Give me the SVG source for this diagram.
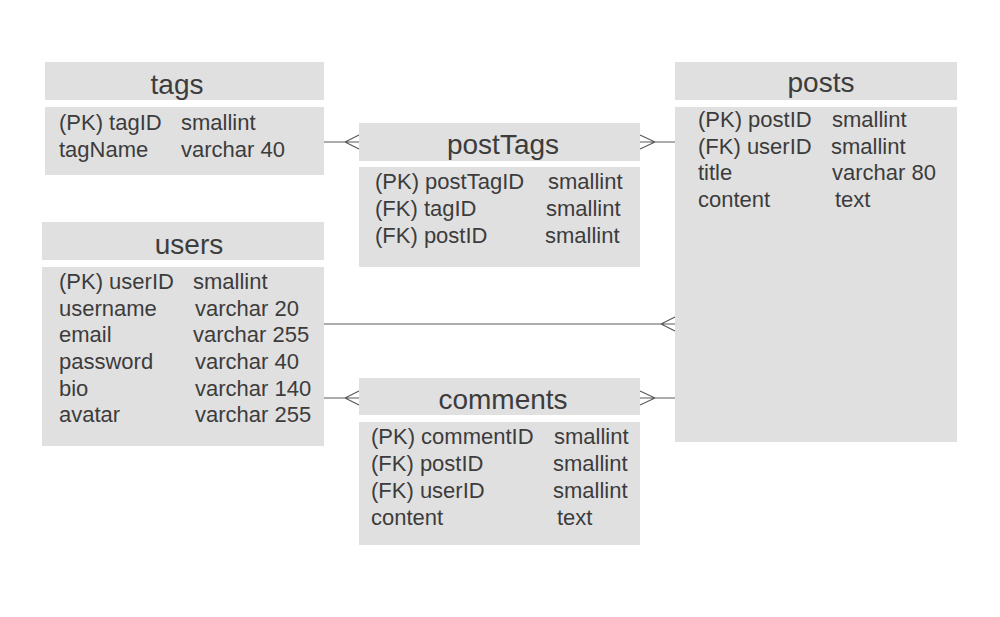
<svg xmlns="http://www.w3.org/2000/svg" width="1000" height="617" viewBox="0 0 1000 617">
<style>
.box{fill:#e1e0e0}
.h{font-family:"Liberation Sans",Arial,sans-serif;font-size:28px;fill:#3c3c3c;text-anchor:middle}
.r{font-family:"Liberation Sans",Arial,sans-serif;font-size:22px;fill:#3c3c3c}
.c{fill:none;stroke:#5a5a5a;stroke-width:1.2}
</style>
<rect width="1000" height="617" fill="#ffffff"/>
<g id="connectors">
<path class="c" d="M324,142 H359 M345,142 L359,135 M345,142 L359,149"/>
<path class="c" d="M640,142 H675 M655,142 L640,135 M655,142 L640,149"/>
<path class="c" d="M324,324 H675 M661,324 L675,317 M661,324 L675,331"/>
<path class="c" d="M324,398 H359 M345,398 L359,391 M345,398 L359,405"/>
<path class="c" d="M640,398 H675 M655,398 L640,391 M655,398 L640,405"/>
</g>
<g id="tags">
<rect class="box" x="45" y="62" width="279" height="38"/>
<rect class="box" x="45" y="107" width="279" height="68"/>
<text class="h" x="177" y="94">tags</text>
<text class="r" x="59" y="130">(PK) tagID</text><text class="r" x="181" y="130">smallint</text>
<text class="r" x="59" y="157">tagName</text><text class="r" x="181" y="157">varchar 40</text>
</g>
<g id="users">
<rect class="box" x="42" y="222" width="282" height="38"/>
<rect class="box" x="42" y="267" width="282" height="179"/>
<text class="h" x="189" y="254">users</text>
<text class="r" x="59" y="289">(PK) userID</text><text class="r" x="193" y="289">smallint</text>
<text class="r" x="59" y="316">username</text><text class="r" x="195" y="316">varchar 20</text>
<text class="r" x="59" y="342">email</text><text class="r" x="193" y="342">varchar 255</text>
<text class="r" x="59" y="369">password</text><text class="r" x="195" y="369">varchar 40</text>
<text class="r" x="59" y="396">bio</text><text class="r" x="195" y="396">varchar 140</text>
<text class="r" x="59" y="422">avatar</text><text class="r" x="195" y="422">varchar 255</text>
</g>
<g id="postTags">
<rect class="box" x="359" y="123" width="281" height="38"/>
<rect class="box" x="359" y="167" width="281" height="100"/>
<text class="h" x="503" y="154">postTags</text>
<text class="r" x="375" y="189">(PK) postTagID</text><text class="r" x="548" y="189">smallint</text>
<text class="r" x="375" y="216">(FK) tagID</text><text class="r" x="546" y="216">smallint</text>
<text class="r" x="375" y="243">(FK) postID</text><text class="r" x="545" y="243">smallint</text>
</g>
<g id="posts">
<rect class="box" x="675" y="62" width="282" height="38"/>
<rect class="box" x="675" y="107" width="282" height="335"/>
<text class="h" x="821" y="92">posts</text>
<text class="r" x="698" y="127">(PK) postID</text><text class="r" x="832" y="127">smallint</text>
<text class="r" x="698" y="154">(FK) userID</text><text class="r" x="831" y="154">smallint</text>
<text class="r" x="698" y="180">title</text><text class="r" x="832" y="180">varchar 80</text>
<text class="r" x="698" y="207">content</text><text class="r" x="835" y="207">text</text>
</g>
<g id="comments">
<rect class="box" x="359" y="378" width="281" height="37"/>
<rect class="box" x="359" y="422" width="281" height="123"/>
<text class="h" x="503" y="409">comments</text>
<text class="r" x="371" y="444">(PK) commentID</text><text class="r" x="554" y="444">smallint</text>
<text class="r" x="371" y="471">(FK) postID</text><text class="r" x="553" y="471">smallint</text>
<text class="r" x="371" y="498">(FK) userID</text><text class="r" x="553" y="498">smallint</text>
<text class="r" x="371" y="525">content</text><text class="r" x="557" y="525">text</text>
</g>
</svg>
